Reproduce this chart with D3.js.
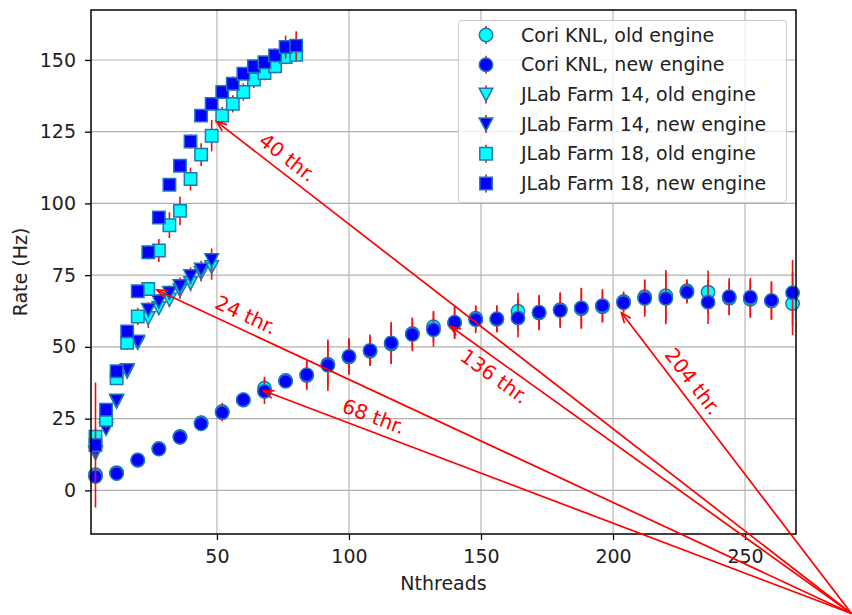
<!DOCTYPE html>
<html>
<head>
<meta charset="utf-8">
<script src="https://cdn.jsdelivr.net/npm/d3@7"></script>
<style>
  body { margin: 0; background: #fff; }
  svg { display: block; font-family: "DejaVu Sans", sans-serif; }
</style>
</head>
<body>
<div id="chart"></div>
<script>
const width = 852;
const height = 615;
const margin = {top: 10, right: 56, bottom: 81, left: 91};

// Cori KNL, one point every 8 threads
const coriX = [4, 12, 20, 28, 36, 44, 52, 60, 68, 76, 84, 92, 100, 108, 116, 124, 132, 140, 148, 156, 164, 172, 180, 188, 196, 204, 212, 220, 228, 236, 244, 252, 260, 268];
const coriOld = [5.5, 6.2, 10.5, 14.6, 18.8, 23.6, 27.5, 31.5, 35.6, 38.3, 40.0, 44.0, 46.5, 48.5, 51.0, 54.7, 57.0, 58.3, 60.0, 59.6, 62.4, 61.8, 63.0, 63.3, 64.0, 65.8, 67.5, 67.8, 69.6, 69.1, 67.0, 66.6, 66.0, 65.1];
const coriOldErr = [2, 1, 1, 1.5, 2.5, 2.5, 3, 1.5, 4, 2, 5, 8, 6, 5, 7, 5.5, 5.5, 5.5, 4.5, 4.5, 6.5, 6, 6, 7, 5.5, 3.5, 6, 9, 4, 7.5, 6, 6.5, 6.5, 11];
const coriNew = [4.8, 5.9, 10.6, 14.4, 18.5, 23.2, 27.1, 31.6, 34.5, 38.0, 40.3, 43.6, 46.7, 48.8, 51.4, 54.3, 56.0, 58.6, 59.5, 59.8, 60.1, 62.1, 62.7, 63.6, 64.4, 65.4, 66.9, 66.9, 69.1, 65.6, 67.5, 67.3, 66.2, 68.9];
const coriNewErr = [1.5, 1, 1, 1.5, 2.5, 2.5, 3, 1.5, 4.4, 2, 5, 9, 6.4, 5.5, 7.3, 5.8, 6, 5.8, 4.7, 4.7, 6.7, 6, 6.1, 7, 5.8, 3.5, 6.4, 9, 4, 7.6, 6.4, 6.7, 6.7, 11.4];

// JLab farm nodes
const jlab14X = [4, 8, 12, 16, 20, 24, 28, 32, 36, 40, 44, 48];
const jlab14Old = [13, 22.5, 31, 41.5, 51.5, 60.1, 63.6, 66.5, 69.8, 72.3, 75.8, 77.9];
const jlab14OldErr = [2, 2, 2, 2, 2, 3.5, 2.5, 2.5, 3, 3, 3, 4.5];
const jlab14New = [13.5, 21.5, 31.3, 42, 51.9, 63, 65.9, 68.9, 71.2, 74.7, 77, 80.3];
const jlab14NewErr = [2, 2, 2, 2, 2, 2.5, 2.5, 2.5, 3, 3, 3, 4];

const jlab18X = [4, 8, 12, 16, 20, 24, 28, 32, 36, 40, 44, 48, 52, 56, 60, 64, 68, 72, 76, 80];
const jlab18Old = [18.7, 24.6, 39.1, 51.4, 60.6, 70.2, 83.6, 92.4, 97.4, 108.5, 117, 123.6, 130.6, 134.7, 138.8, 143.2, 145.4, 147.8, 151.0, 151.8];
const jlab18OldErr = [3, 3, 2, 2.5, 3, 2, 4, 4.5, 5, 4, 4, 5.5, 3, 3, 3, 3, 2.5, 2.5, 2.5, 2.5];
const jlab18New = [15.8, 28.1, 41.5, 55.4, 69.4, 83.0, 95.1, 106.5, 113.1, 121.6, 130.6, 134.7, 138.8, 141.7, 145.2, 147.8, 149.2, 151.6, 154.5, 155.0];
const jlab18NewErr = [21.8, 2, 2, 2, 2, 2.5, 2, 2, 2, 2.5, 1.5, 2, 2.5, 2.5, 2, 2, 2, 2.5, 4, 5];

const seriesNames = ["Cori KNL, old engine", "Cori KNL, new engine", "JLab Farm 14, old engine", "JLab Farm 14, new engine", "JLab Farm 18, old engine", "JLab Farm 18, new engine"];

// annotations: label, target point (data units), all arrows start from the same point
const annLabels = ["40 thr.", "24 thr.", "68 thr.", "136 thr.", "204 thr."];
const annX = [49.9, 27.3, 67.7, 138.4, 203.2];
const annY = [128.5, 69.8, 34.7, 57.2, 61.9];
const annFrom = [290.3, -42.9];

const xTicks = [50, 100, 150, 200, 250];
const yTicks = [0, 25, 50, 75, 100, 125, 150];

const series = [
  {name: seriesNames[0], xs: coriX, ys: coriOld, err: coriOldErr, shape: "circle", fill: "#00ffff"},
  {name: seriesNames[1], xs: coriX, ys: coriNew, err: coriNewErr, shape: "circle", fill: "#0000ff"},
  {name: seriesNames[2], xs: jlab14X, ys: jlab14Old, err: jlab14OldErr, shape: "tri", fill: "#00ffff"},
  {name: seriesNames[3], xs: jlab14X, ys: jlab14New, err: jlab14NewErr, shape: "tri", fill: "#0000ff"},
  {name: seriesNames[4], xs: jlab18X, ys: jlab18Old, err: jlab18OldErr, shape: "square", fill: "#00ffff"},
  {name: seriesNames[5], xs: jlab18X, ys: jlab18New, err: jlab18NewErr, shape: "square", fill: "#0000ff"}
];

const svg = d3.select("#chart").append("svg")
  .attr("width", width)
  .attr("height", height);

const x = d3.scaleLinear().domain([2.3, 269.3]).range([margin.left, width - margin.right]);
const y = d3.scaleLinear().domain([-15.2, 167.4]).range([height - margin.bottom, margin.top]);

// grid
const grid = svg.append("g").attr("stroke", "#b0b0b0").attr("stroke-width", 1.1);
grid.selectAll(".gx").data(xTicks).enter().append("line")
  .attr("x1", d => x(d)).attr("x2", d => x(d))
  .attr("y1", margin.top).attr("y2", height - margin.bottom);
grid.selectAll(".gy").data(yTicks).enter().append("line")
  .attr("x1", margin.left).attr("x2", width - margin.right)
  .attr("y1", d => y(d)).attr("y2", d => y(d));

function markerPath(shape) {
  if (shape === "circle") return d3.symbol(d3.symbolCircle, Math.PI * 6.7 * 6.7)();
  if (shape === "square") return "M-6.2,-6.2L6.2,-6.2L6.2,6.2L-6.2,6.2Z";
  return "M-6.8,-6.2L6.8,-6.2L0,6.8Z"; // triangle pointing down
}

// data: error bars then markers, series by series
series.forEach(s => {
  const g = svg.append("g");
  const pts = s.xs.map((v, i) => ({x: v, y: s.ys[i], e: s.err[i]}));
  g.selectAll("line").data(pts).enter().append("line")
    .attr("x1", d => x(d.x)).attr("x2", d => x(d.x))
    .attr("y1", d => y(d.y - d.e)).attr("y2", d => y(d.y + d.e))
    .attr("stroke", "#ee1111").attr("stroke-width", 1.6);
  g.selectAll("path").data(pts).enter().append("path")
    .attr("d", markerPath(s.shape))
    .attr("transform", d => `translate(${x(d.x)},${y(d.y)})`)
    .attr("fill", s.fill)
    .attr("stroke", "#1f77b4")
    .attr("stroke-width", 1.5);
});

// frame
svg.append("rect")
  .attr("x", margin.left).attr("y", margin.top)
  .attr("width", width - margin.left - margin.right)
  .attr("height", height - margin.top - margin.bottom)
  .attr("fill", "none").attr("stroke", "#000").attr("stroke-width", 1.5);

// axes
const xAxis = svg.append("g")
  .attr("transform", `translate(0,${height - margin.bottom})`)
  .call(d3.axisBottom(x).tickValues(xTicks).tickSize(6).tickPadding(10).tickSizeOuter(0));
const yAxis = svg.append("g")
  .attr("transform", `translate(${margin.left},0)`)
  .call(d3.axisLeft(y).tickValues(yTicks).tickSize(6).tickPadding(9).tickSizeOuter(0));
[xAxis, yAxis].forEach(a => {
  a.select(".domain").remove();
  a.selectAll(".tick line").attr("stroke", "#000").attr("stroke-width", 1.3);
  a.selectAll(".tick text").attr("fill", "#222").style("font-size", "19px").style("font-family", "DejaVu Sans");
});

svg.append("text")
  .attr("x", (margin.left + width - margin.right) / 2)
  .attr("y", 590)
  .attr("text-anchor", "middle")
  .attr("fill", "#222")
  .style("font-size", "19px")
  .text("Nthreads");

svg.append("text")
  .attr("transform", `translate(27,${(margin.top + height - margin.bottom) / 2}) rotate(-90)`)
  .attr("text-anchor", "middle")
  .attr("fill", "#222")
  .style("font-size", "19px")
  .text("Rate (Hz)");

// annotations
const along = [78, 91, 112, 65, 98];
const side = [1, 1, 1, -1, 1];
const ann = svg.append("g");
const fx = x(annFrom[0]), fy = y(annFrom[1]);
annLabels.forEach((lab, i) => {
  const tx = x(annX[i]), ty = y(annY[i]);
  const len = Math.hypot(fx - tx, fy - ty);
  const ux = (fx - tx) / len, uy = (fy - ty) / len;
  ann.append("line")
    .attr("x1", fx).attr("y1", fy).attr("x2", tx).attr("y2", ty)
    .attr("stroke", "#ff0000").attr("stroke-width", 1.7);
  const hl = 10, hw = 4;
  ann.append("path")
    .attr("d", `M${tx + ux * hl + uy * hw},${ty + uy * hl - ux * hw}L${tx},${ty}L${tx + ux * hl - uy * hw},${ty + uy * hl + ux * hw}`)
    .attr("fill", "none").attr("stroke", "#ff0000").attr("stroke-width", 1.7);
  const cx = tx + ux * along[i] + side[i] * 15 * uy;
  const cy = ty + uy * along[i] - side[i] * 15 * ux;
  const ang = Math.atan2(uy, ux) * 180 / Math.PI;
  ann.append("text")
    .attr("transform", `translate(${cx},${cy}) rotate(${ang})`)
    .attr("text-anchor", "middle")
    .attr("dy", "0.35em")
    .attr("fill", "#ff0000")
    .style("font-size", "20px")
    .text(lab);
});

// legend
const lg = svg.append("g");
lg.append("rect")
  .attr("x", 458.5).attr("y", 20.5).attr("width", 328).attr("height", 182)
  .attr("rx", 3)
  .attr("fill", "#fff").attr("fill-opacity", 0.8)
  .attr("stroke", "#cccccc").attr("stroke-width", 1);
series.forEach((s, i) => {
  const ly = 35 + i * 29.7;
  lg.append("line")
    .attr("x1", 486).attr("x2", 486).attr("y1", ly - 9).attr("y2", ly + 9)
    .attr("stroke", "#ee1111").attr("stroke-width", 1.6);
  lg.append("path")
    .attr("d", markerPath(s.shape))
    .attr("transform", `translate(486,${ly})`)
    .attr("fill", s.fill).attr("stroke", "#1f77b4").attr("stroke-width", 1.5);
  lg.append("text")
    .attr("x", 521).attr("y", ly).attr("dy", "0.35em")
    .attr("fill", "#222")
    .style("font-size", "19px")
    .text(s.name);
});
</script>
</body>
</html>
